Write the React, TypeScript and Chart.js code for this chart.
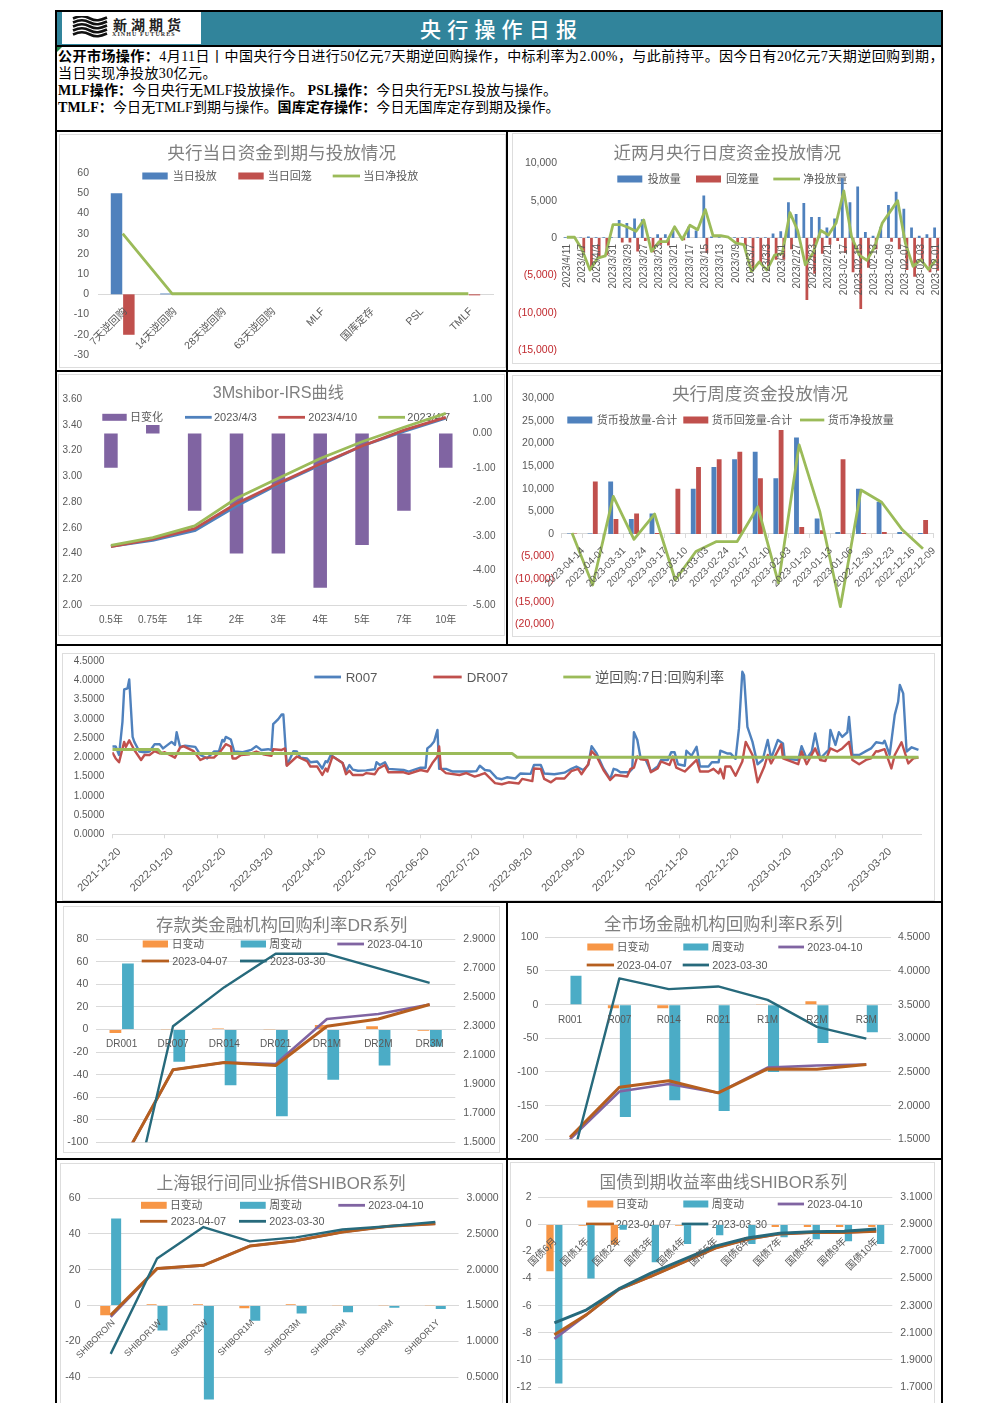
import { useEffect, useRef } from "react";
import Chart from "chart.js/auto";

// ---------- chart data ----------
const dayCategories = ["7天逆回购", "14天逆回购", "28天逆回购", "63天逆回购", "MLF", "国库定存", "PSL", "TMLF"];
const dayInjection = [50, 0.4, 0.3, 0.3, 0.3, 0.3, 0.3, 0];
const dayWithdrawal = [-20, 0, 0, 0, 0, 0, 0, -0.5];
const dayNet = [30, 0.3, 0.3, 0.3, 0.3, 0.3, 0.3, 0.3];

const dailyDates = ["2023/4/11", "2023/4/10", "2023/4/7", "2023/4/6", "2023/4/4", "2023/4/3", "2023/3/31", "2023/3/30", "2023/3/29", "2023/3/28", "2023/3/27", "2023/3/24", "2023/3/23", "2023/3/22", "2023/3/21", "2023/3/20", "2023/3/17", "2023/3/16", "2023/3/15", "2023/3/14", "2023/3/13", "2023/3/10", "2023/3/9", "2023/3/8", "2023/3/7", "2023/3/6", "2023/3/3", "2023/3/2", "2023/3/1", "2023/2/28", "2023/2/27", "2023/2/24", "2023/2/23", "2023/2/22", "2023/2/21", "2023/2/20", "2023-02-17", "2023-02-16", "2023-02-15", "2023-02-14", "2023-02-13", "2023-02-10", "2023-02-09", "2023-02-08", "2023-02-07", "2023-02-06", "2023-02-03", "2023-02-02", "2023-02-01"];
const dailyInjection = [100, 100, 50, 200, 100, 100, 100, 2400, 2000, 2600, 2500, 100, 500, 500, 1000, 50, 1500, 1000, 5700, 200, 100, 50, 100, 100, 100, 100, 100, 600, 900, 4800, 3200, 4700, 2800, 2800, 1400, 2600, 8000, 4800, 6900, 800, 300, 1500, 4400, 6200, 3900, 1400, 300, 500, 1400];
const dailyWithdrawal = [0, 0, -2000, -4300, -2700, -2300, 0, -600, -600, -1800, -400, -1900, -900, -1000, 0, -300, 0, 0, -2000, 0, 0, 0, -800, -1000, -4300, -3400, -4300, -2900, -2900, -1500, 0, -8300, -4800, -2100, -900, -400, -2000, -4600, -9500, -4000, -1500, 0, -500, -1500, -4300, -5200, -3200, -4600, -4400];
const dailyNet = [100, 100, -1600, -4300, -2700, -2400, 1800, 1800, 1400, 900, 2400, -1800, -500, -500, 1500, -200, 1700, 1100, 3800, 300, 300, 100, -700, -900, -4500, -3200, -4300, -2300, -2100, 3400, 1000, -3600, -2000, 1000, 400, 2000, 6300, 200, -2300, -3000, -1200, 2000, 3500, 5000, -700, -3800, -2900, -4200, -2900];

const irsTenors = ["0.5年", "0.75年", "1年", "2年", "3年", "4年", "5年", "7年", "10年"];
const irsDayChange = [-1, 0.25, -2.25, -3.5, -3.5, -4.5, -3.25, -2.25, -1];
const irs0403 = [2.456, 2.503, 2.578, 2.77, 2.94, 3.09, 3.237, 3.35, 3.453];
const irs0410 = [2.454, 2.513, 2.594, 2.79, 2.947, 3.097, 3.237, 3.36, 3.46];
const irs0407 = [2.464, 2.524, 2.615, 2.83, 2.986, 3.14, 3.27, 3.383, 3.49];

const weekDates = ["2023-04-14", "2023-04-07", "2023-03-31", "2023-03-24", "2023-03-17", "2023-03-10", "2023-03-03", "2023-02-24", "2023-02-17", "2023-02-10", "2023-02-03", "2023-01-20", "2023-01-13", "2023-01-06", "2022-12-30", "2022-12-23", "2022-12-16", "2022-12-09"];
const weekInjection = [100, 100, 11600, 3300, 4500, 100, 10000, 14800, 16500, 18200, 12300, 21300, 3400, 400, 10000, 7100, 400, 200];
const weekWithdrawal = [100, 11600, 3300, 4500, 200, 10000, 14800, 16500, 18200, 12300, 23000, 1500, 800, 16500, 200, 400, 100, 3100];
const weekNet = [200, -11300, 8300, -1200, 4400, -10200, -3900, -1700, -1700, 6000, -10900, 19700, 5000, -16100, 9700, 7000, 900, -3300];

const monthTickDays = [0, 31, 62, 90, 121, 151, 182, 212, 243, 274, 304, 335, 365, 396, 427, 455];
const monthTickLabels = ["2021-12-20", "2022-01-20", "2022-02-20", "2022-03-20", "2022-04-20", "2022-05-20", "2022-06-20", "2022-07-20", "2022-08-20", "2022-09-20", "2022-10-20", "2022-11-20", "2022-12-20", "2023-01-20", "2023-02-20", "2023-03-20"];
const r007Days = [0, 2, 4, 6, 7, 9, 10, 12, 13, 16, 19, 22, 25, 28, 30, 35, 37, 38, 40, 43, 49, 52, 56, 60, 63, 65, 66, 67, 70, 72, 77, 82, 85, 88, 92, 94, 95, 98, 100, 101, 103, 105, 107, 109, 111, 115, 117, 121, 124, 126, 127, 129, 132, 136, 138, 140, 142, 145, 150, 155, 156, 158, 161, 163, 172, 175, 182, 185, 186, 188, 190, 192, 193, 197, 201, 207, 212, 215, 217, 220, 223, 227, 230, 233, 238, 241, 247, 249, 253, 255, 261, 267, 271, 274, 278, 281, 283, 286, 290, 294, 296, 298, 300, 305, 307, 308, 310, 312, 315, 318, 322, 324, 328, 330, 332, 334, 338, 339, 342, 345, 347, 352, 354, 358, 359, 363, 365, 368, 370, 372, 373, 375, 378, 381, 384, 387, 389, 393, 396, 397, 405, 407, 410, 413, 415, 418, 420, 423, 424, 427, 429, 431, 434, 435, 437, 441, 445, 448, 451, 455, 456, 459, 462, 464, 465, 467, 469, 472, 476];
const r007Rates = [2.28, 2.28, 2.06, 2.92, 3.76, 3.79, 4.02, 2.53, 2.4, 2.15, 2.13, 2.15, 2.34, 2.34, 2.23, 2.4, 2.32, 2.65, 2.27, 2.3, 2.27, 2.06, 1.97, 2.15, 2.16, 2.45, 2.41, 2.53, 2.46, 2.15, 2.13, 2.19, 2.29, 2.19, 2.21, 2.19, 2.86, 2.99, 3.11, 3.11, 1.8, 1.97, 2.16, 2.15, 1.99, 1.97, 1.87, 1.89, 1.71, 1.9, 1.87, 2.06, 1.97, 1.85, 1.63, 1.8, 1.68, 1.65, 1.66, 1.69, 1.87, 1.8, 1.87, 1.7, 1.67, 1.63, 1.73, 1.73, 2.23, 2.3, 2.41, 2.71, 1.7, 1.7, 1.63, 1.63, 1.63, 1.64, 1.78, 1.67, 1.65, 1.46, 1.43, 1.48, 1.45, 1.58, 1.57, 1.8, 1.8, 1.58, 1.56, 1.6, 1.7, 1.76, 1.67, 1.8, 2.29, 2.1, 1.71, 1.43, 1.7, 1.67, 1.61, 1.61, 1.7, 2.65, 2.45, 1.97, 1.93, 1.63, 1.76, 1.93, 1.93, 2.13, 2.13, 1.82, 1.78, 2.17, 2.04, 2.27, 1.76, 1.76, 1.87, 1.87, 2.17, 2.1, 2.1, 1.96, 2.75, 4.22, 4.13, 2.79, 2.4, 1.82, 1.93, 2.45, 1.97, 2.45, 2.36, 1.97, 1.93, 2.29, 1.97, 2.15, 2.62, 1.97, 2.06, 2.19, 2.71, 2.32, 2.65, 2.53, 2.65, 3.05, 2.06, 2.06, 2.16, 2.23, 2.39, 2.36, 2.43, 2.06, 3.1, 3.44, 3.88, 3.66, 2.15, 2.26, 2.19];
const dr007Days = [0, 2, 4, 7, 8, 10, 13, 17, 19, 22, 25, 28, 31, 37, 40, 42, 48, 52, 55, 60, 64, 67, 70, 71, 73, 76, 81, 85, 89, 94, 95, 100, 102, 103, 109, 115, 117, 121, 124, 126, 127, 130, 132, 136, 138, 140, 142, 148, 150, 155, 157, 161, 163, 172, 175, 182, 186, 189, 192, 193, 194, 197, 205, 209, 214, 217, 220, 226, 230, 234, 240, 242, 248, 249, 253, 255, 259, 262, 267, 271, 275, 277, 281, 283, 286, 290, 294, 297, 304, 306, 308, 310, 312, 316, 318, 322, 324, 329, 331, 333, 338, 341, 345, 347, 352, 355, 358, 359, 361, 362, 365, 368, 372, 374, 378, 381, 385, 387, 389, 395, 396, 405, 407, 410, 415, 418, 421, 424, 428, 431, 435, 437, 441, 445, 448, 451, 452, 456, 460, 462, 466, 470, 473, 476];
const dr007Rates = [2.13, 1.97, 1.87, 2.4, 2.27, 2.44, 2.19, 1.93, 2.06, 2.06, 2.16, 2.1, 2.13, 1.99, 2.25, 2.29, 2.16, 1.93, 1.99, 1.99, 2.16, 2.34, 2.28, 1.97, 1.97, 2.06, 2.08, 2.15, 2.08, 2.04, 2.21, 2.19, 2.23, 1.78, 2.02, 1.9, 1.76, 1.76, 1.54, 1.71, 1.63, 2.02, 1.97, 1.85, 1.56, 1.65, 1.54, 1.54, 1.59, 1.56, 1.7, 1.8, 1.61, 1.61, 1.57, 1.67, 1.63, 1.85, 2.02, 2.28, 1.7, 1.59, 1.54, 1.59, 1.5, 1.54, 1.59, 1.33, 1.3, 1.35, 1.32, 1.44, 1.38, 1.71, 1.7, 1.44, 1.35, 1.45, 1.45, 1.64, 1.7, 1.56, 1.82, 2.16, 2.02, 1.67, 1.41, 1.54, 1.5, 1.7, 1.73, 2.02, 1.95, 1.93, 1.61, 1.71, 1.89, 1.8, 2.02, 1.73, 1.63, 1.76, 1.93, 1.63, 1.63, 1.7, 1.58, 1.7, 1.45, 1.76, 1.76, 1.52, 1.89, 2.4, 2.06, 1.35, 1.76, 2.06, 1.84, 2.34, 1.97, 1.82, 2.15, 1.82, 2.23, 1.93, 1.9, 2.23, 2.15, 2.23, 2.4, 1.93, 1.82, 1.93, 1.97, 2.16, 2.15, 2.21, 1.71, 2.06, 2.39, 1.84, 1.97, 1.99];
const repoDays = [0, 27, 29, 236, 239, 476];
const repoRates = [2.2, 2.2, 2.1, 2.1, 2.0, 2.0];

const drTerms = ["DR001", "DR007", "DR014", "DR021", "DR1M", "DR2M", "DR3M"];
const drDay = [-3, 0.2, 1, 0.2, 4, 3, -1];
const drWeek = [58.5, -28.5, -49.5, -77, -44.5, -32, -15];
const dr0410 = [1.36, 2.0, 2.05, 2.04, 2.35, 2.385, 2.45];
const dr0407 = [1.36, 2.0, 2.05, 2.03, 2.3, 2.35, 2.45];
const dr0330 = [0.77, 2.3, 2.57, 2.8, 2.8, 2.7, 2.6];

const rTerms = ["R001", "R007", "R014", "R021", "R1M", "R2M", "R3M"];
const rDay = [-1, -5.5, -5.5, -1, 1, 5, -1];
const rWeek = [43, -167, -142, -158, -100, -57, -41];
const r0410 = [1.5, 2.21, 2.32, 2.19, 2.565, 2.595, 2.61];
const r0407 = [1.53, 2.272, 2.37, 2.19, 2.545, 2.54, 2.61];
const r0330 = [1.07, 3.89, 3.73, 3.77, 3.57, 3.17, 2.995];

const shiborTerms = ["SHIBORO/N", "SHIBOR1W", "SHIBOR2W", "SHIBOR1M", "SHIBOR3M", "SHIBOR6M", "SHIBOR9M", "SHIBOR1Y"];
const shiborDay = [-5.5, 0.7, 0.7, -1.5, 0.7, 0.1, 0.1, 0.1];
const shiborWeek = [48.5, -14, -52.5, -8.5, -4.5, -3.8, -1.2, -2];
const shibor0410 = [1.34, 2.015, 2.06, 2.33, 2.405, 2.525, 2.605, 2.64];
const shibor0407 = [1.365, 2.015, 2.06, 2.33, 2.405, 2.525, 2.605, 2.64];
const shibor0330 = [0.825, 2.155, 2.595, 2.395, 2.45, 2.56, 2.605, 2.665];

const bondTerms = ["国债6月", "国债1年", "国债2年", "国债3年", "国债4年", "国债5年", "国债6年", "国债7年", "国债8年", "国债9年", "国债10年"];
const bondDay = [-3.45, -0.1, -1.5, -0.05, -0.1, -0.05, 0, -0.2, -0.2, -0.2, -0.2];
const bondWeek = [-11.75, -4, -0.4, -2.8, -1.45, -0.8, -1.45, -0.95, -1.1, -1.25, -1.45];
const bond0410 = [2.055, 2.234, 2.42, 2.517, 2.62, 2.725, 2.79, 2.83, 2.84, 2.84, 2.85];
const bond0407 = [2.086, 2.234, 2.42, 2.517, 2.62, 2.725, 2.79, 2.83, 2.84, 2.84, 2.85];
const bond0330 = [2.173, 2.27, 2.424, 2.54, 2.64, 2.74, 2.8, 2.835, 2.845, 2.85, 2.866];

// ---------- styling ----------
const FONT = '"Liberation Sans","Noto Sans CJK SC",sans-serif';
const GREY = "#595959";
const GRID = "#D9D9D9";
const NEG = "#C0282D";
const BLUE = "#4F81BD";
const RED = "#C0504D";
const GREEN = "#9BBB59";
const PURPLE = "#8064A2";
const ORANGE = "#F79646";
const TEAL = "#4BACC6";
const BROWN = "#B65F1F";
const DARK = "#276A7C";

type Rect = { x: number; y: number; w: number; h: number };
type Plot = { l: number; t: number; r: number; b: number };
type LegendSlot = [number, number, number, number, number, number?]; // dataset, swatch left, swatch right, centre y, text x, optional font size

const zeroPads = (s: any) => {
  s.paddingLeft = 0;
  s.paddingRight = 0;
  s.paddingTop = 0;
  s.paddingBottom = 0;
};

function yScale(side: "left" | "right", width: number, min: number, max: number, step: number, pad: number, fmt: (v: number) => string, grid = false, size = 10.5, negRed = false) {
  return {
    type: "linear",
    position: side,
    min,
    max,
    grid: { display: grid, color: GRID, drawTicks: false, lineWidth: 1 },
    border: { display: false },
    ticks: {
      stepSize: step,
      padding: pad,
      autoSkip: false,
      font: { family: FONT, size },
      color: negRed ? (c: any) => (c.tick.value < 0 ? NEG : GREY) : GREY,
      callback: (v: any) => fmt(Number(v)),
    },
    afterFit: (s: any) => {
      s.width = width;
      zeroPads(s);
    },
  };
}

function xScale(opts: { height: number; atZero?: boolean; rotation?: number; pad?: number; shift?: number; ticks?: boolean; size?: number; every?: number }) {
  const { height, atZero = true, rotation = 0, pad = 6, shift = 0, ticks = false, size = 10, every = 1 } = opts;
  return {
    type: "category",
    offset: true,
    position: atZero ? { y: 0 } : "bottom",
    grid: { display: ticks, drawOnChartArea: false, drawTicks: ticks, tickLength: 4, color: GRID },
    border: { display: true, color: GRID, width: 1 },
    ticks: {
      autoSkip: false,
      minRotation: rotation,
      maxRotation: rotation,
      padding: pad,
      labelOffset: shift,
      z: 1,
      color: GREY,
      font: { family: FONT, size },
      callback: function (this: any, v: any, i: number) {
        return i % every === 0 ? this.getLabelForValue(v) : "";
      },
    },
    afterFit: (s: any) => {
      s.height = height;
      zeroPads(s);
    },
  };
}

const bar = (label: string, data: number[], color: string, cat: number, pct: number, yAxisID = "y") => ({
  type: "bar",
  label,
  data,
  backgroundColor: color,
  categoryPercentage: cat,
  barPercentage: pct,
  yAxisID,
  order: 20,
});
const line = (label: string, data: any[], color: string, order: number, yAxisID = "y", width = 2.8) => ({
  type: "line",
  label,
  data,
  borderColor: color,
  backgroundColor: color,
  borderWidth: width,
  borderJoinStyle: "round",
  pointRadius: 0,
  tension: 0,
  yAxisID,
  order,
});

function overlay(rect: Rect, title: string | null, titleX: number, titleY: number, titleSize: number, legendSize: number, slots: LegendSlot[]) {
  return {
    id: "panelText",
    beforeDatasetsDraw(chart: any) {
      const c = chart.ctx;
      c.save();
      if (title) {
        c.font = `${titleSize}px ${FONT}`;
        c.fillStyle = "#7F7F7F";
        c.textAlign = "center";
        c.textBaseline = "middle";
        c.fillText(title, titleX - rect.x, titleY - rect.y + 1);
      }
      c.textAlign = "left";
      c.textBaseline = "middle";
      for (const [i, a, b, y, tx, size] of slots) {
        const d = chart.data.datasets[i];
        c.font = `${size ?? legendSize}px ${FONT}`;
        if (d.type === "bar") {
          c.fillStyle = d.backgroundColor;
          c.fillRect(a - rect.x, y - rect.y - 3.5, b - a, 7);
        } else {
          c.strokeStyle = d.borderColor;
          c.lineWidth = 2.8;
          c.beginPath();
          c.moveTo(a - rect.x, y - rect.y);
          c.lineTo(b - rect.x, y - rect.y);
          c.stroke();
        }
        c.fillStyle = GREY;
        c.fillText(d.label, tx - rect.x, y - rect.y + 1);
      }
      c.restore();
    },
  };
}

function makeConfig(rect: Rect, plot: Plot, labels: string[] | undefined, datasets: any[], scales: any, plugin: any, atZero: boolean) {
  const hasRight = !!scales.y1;
  return {
    type: "bar",
    data: { labels, datasets },
    options: {
      responsive: false,
      animation: false,
      maintainAspectRatio: false,
      layout: {
        padding: {
          left: 0,
          top: plot.t - rect.y,
          right: hasRight ? 0 : rect.x + rect.w - plot.r,
          bottom: atZero ? rect.y + rect.h - plot.b : 0,
        },
      },
      plugins: { legend: { display: false }, title: { display: false }, tooltip: { enabled: false } },
      scales,
    },
    plugins: [plugin],
  };
}

const num0 = (v: number) => String(v);
const fix2 = (v: number) => v.toFixed(2);
const fix4 = (v: number) => v.toFixed(4);
const money = (v: number) => {
  const s = Math.abs(v).toLocaleString("en-US");
  return v < 0 ? `(${s})` : s;
};

// ---------- the nine panels ----------
const R1L: Rect = { x: 56, y: 132, w: 450, h: 237 };
const R1R: Rect = { x: 508, y: 132, w: 433, h: 237 };
const R2L: Rect = { x: 56, y: 372, w: 450, h: 272 };
const R2R: Rect = { x: 508, y: 372, w: 433, h: 272 };
const R3: Rect = { x: 56, y: 646, w: 885, h: 255 };
const R4L: Rect = { x: 56, y: 903, w: 450, h: 255 };
const R4R: Rect = { x: 508, y: 903, w: 433, h: 255 };
const R5L: Rect = { x: 56, y: 1160, w: 450, h: 243 };
const R5R: Rect = { x: 508, y: 1160, w: 433, h: 243 };
const rect3Bottom = R3.y + R3.h;

function configs(): any[] {
  const list: any[] = [];

  let rect = R1L;
  let plot: Plot = { l: 98, t: 173, r: 493, b: 355 };
  list.push([
    rect,
    makeConfig(
      rect, plot, dayCategories,
      [bar("当日投放", dayInjection, BLUE, 0.5, 0.93), bar("当日回笼", dayWithdrawal, RED, 0.5, 0.93), line("当日净投放", dayNet, GREEN, 1)],
      { x: xScale({ height: 0, rotation: 45, pad: 11, shift: 3, size: 10.5 }), y: yScale("left", plot.l - rect.x, -30, 60, 10, 9, num0) },
      overlay(rect, "央行当日资金到期与投放情况", 281.7, 153.3, 17.6, 11, [[0, 142.3, 167.7, 176, 172.7], [1, 238.3, 263.7, 176, 267.7], [2, 332.7, 360, 176, 363.3]]),
      true
    ),
  ]);

  rect = R1R;
  plot = { l: 563, t: 163.3, r: 940, b: 350 };
  list.push([
    rect,
    makeConfig(
      rect, plot, dailyDates,
      [bar("投放量", dailyInjection, BLUE, 0.8, 0.9), bar("回笼量", dailyWithdrawal, RED, 0.8, 0.9), line("净投放量", dailyNet, GREEN, 1)],
      { x: xScale({ height: 0, rotation: 90, pad: 6, every: 2, size: 10 }), y: yScale("left", plot.l - rect.x, -15000, 10000, 5000, 6, money, false, 10.5, true) },
      overlay(rect, "近两月央行日度资金投放情况", 727.3, 152.7, 17.5, 11, [[0, 617.3, 642.3, 179, 647.7], [1, 696, 721, 179, 726], [2, 773.3, 800, 179, 803.3]]),
      true
    ),
  ]);

  rect = R2L;
  plot = { l: 90, t: 399.3, r: 466.7, b: 605 };
  list.push([
    rect,
    makeConfig(
      rect, plot, irsTenors,
      [bar("日变化", irsDayChange, PURPLE, 0.323, 1, "y1"), line("2023/4/3", irs0403, BLUE, 3), line("2023/4/10", irs0410, RED, 2), line("2023/4/7", irs0407, GREEN, 1)],
      {
        x: xScale({ height: rect.y + rect.h - plot.b, atZero: false, pad: 9 }),
        y: yScale("left", plot.l - rect.x, 2, 3.6, 0.2, 8, fix2, false, 10),
        y1: yScale("right", rect.x + rect.w - plot.r, -5, 1, 1, 6, fix2, false, 10),
      },
      overlay(rect, "3Mshibor-IRS曲线", 278.3, 392.7, 16.2, 11, [[0, 102.3, 126.7, 417.3, 130], [1, 185, 211.7, 417.3, 214], [2, 278.3, 305, 417.3, 308.3], [3, 378.3, 405, 417.3, 407.3]]),
      false
    ),
  ]);

  rect = R2R;
  plot = { l: 561.7, t: 398.3, r: 933.3, b: 624.3 };
  list.push([
    rect,
    makeConfig(
      rect, plot, weekDates,
      [bar("货币投放量-合计", weekInjection, BLUE, 0.51, 0.92), bar("货币回笼量-合计", weekWithdrawal, RED, 0.51, 0.92), line("货币净投放量", weekNet, GREEN, 1)],
      { x: xScale({ height: 0, rotation: 45, pad: 7, shift: 11, ticks: true }), y: yScale("left", plot.l - rect.x, -20000, 30000, 5000, 7.5, money, false, 10.5, true) },
      overlay(rect, "央行周度资金投放情况", 760, 394, 17.6, 11, [[0, 567.3, 592.3, 420, 596.7], [1, 683.3, 708.3, 420, 711.7], [2, 800, 824.3, 420, 827.7]]),
      true
    ),
  ]);

  rect = R3;
  plot = { l: 112.3, t: 661, r: 921, b: 834.3 };
  const toPoints = (days: number[], rates: number[]) => days.map((d, i) => ({ x: d, y: rates[i] }));
  list.push([
    rect,
    makeConfig(
      rect, plot, undefined,
      [line("R007", toPoints(r007Days, r007Rates), BLUE, 3, "y", 2.4), line("DR007", toPoints(dr007Days, dr007Rates), RED, 2, "y", 2.4), line("逆回购:7日:回购利率", toPoints(repoDays, repoRates), GREEN, 1, "y", 3)],
      {
        x: {
          type: "linear",
          position: "bottom",
          offset: false,
          min: 0,
          max: 477.5,
          grid: { display: true, offset: false, drawOnChartArea: false, drawTicks: true, tickLength: 4, color: GRID },
          border: { display: true, color: GRID },
          afterBuildTicks: (s: any) => {
            s.ticks = monthTickDays.map((value) => ({ value }));
          },
          ticks: {
            autoSkip: false,
            minRotation: 45,
            maxRotation: 45,
            padding: 7,
            labelOffset: 7,
            color: GREY,
            font: { family: FONT, size: 11 },
            callback: (v: any) => monthTickLabels[monthTickDays.indexOf(Number(v))] ?? "",
          },
          afterFit: (s: any) => {
            s.height = rect3Bottom - 834.3;
            zeroPads(s);
          },
        },
        y: yScale("left", plot.l - rect.x, 0, 4.5, 0.5, 8, fix4, false, 10),
      },
      overlay(rect, null, 0, 0, 0, 13.3, [[0, 314.3, 341, 677, 345.7], [1, 433.3, 461.7, 677, 466.7], [2, 563.3, 590.7, 677, 595, 14.2]]),
      false
    ),
  ]);

  rect = R4L;
  plot = { l: 96, t: 939.3, r: 455.3, b: 1142.3 };
  list.push([
    rect,
    makeConfig(
      rect, plot, drTerms,
      [bar("日变动", drDay, ORANGE, 0.487, 0.94), bar("周变动", drWeek, TEAL, 0.487, 0.94), line("2023-04-10", dr0410, PURPLE, 3, "y1", 2.6), line("2023-04-07", dr0407, BROWN, 2, "y1", 3), line("2023-03-30", dr0330, DARK, 1, "y1", 2.4)],
      {
        x: xScale({ height: 0, pad: 9 }),
        y: yScale("left", plot.l - rect.x, -100, 80, 20, 7.7, num0, true),
        y1: yScale("right", rect.x + rect.w - plot.r, 1.5, 2.9, 0.2, 8, fix4),
      },
      overlay(rect, "存款类金融机构回购利率DR系列", 281.7, 925, 17.4, 10.8, [[0, 142.7, 168, 944, 171.7], [1, 240.7, 266, 944, 269.3], [2, 337.3, 364, 944, 367.3], [3, 141.7, 169, 961, 172.3], [4, 240, 266.7, 961, 270]]),
      true
    ),
  ]);

  rect = R4R;
  plot = { l: 545.3, t: 937.3, r: 891, b: 1139.3 };
  list.push([
    rect,
    makeConfig(
      rect, plot, rTerms,
      [bar("日变动", rDay, ORANGE, 0.486, 0.92), bar("周变动", rWeek, TEAL, 0.486, 0.92), line("2023-04-10", r0410, PURPLE, 3, "y1", 2.6), line("2023-04-07", r0407, BROWN, 2, "y1", 3), line("2023-03-30", r0330, DARK, 1, "y1", 2.4)],
      {
        x: xScale({ height: 0, pad: 10 }),
        y: yScale("left", plot.l - rect.x, -200, 100, 50, 7, num0, true),
        y1: yScale("right", rect.x + rect.w - plot.r, 1.5, 4.5, 0.5, 7, fix4),
      },
      overlay(rect, "全市场金融机构回购利率R系列", 723.3, 924, 17.4, 10.8, [[0, 587.3, 613.3, 947, 616.7], [1, 683.3, 708.3, 947, 711.7], [2, 778.3, 804, 947, 807.3], [3, 586.7, 614, 965, 616.7], [4, 682.7, 709, 965, 712.3]]),
      true
    ),
  ]);

  rect = { ...R5L, h: 256 };
  plot = { l: 87.5, t: 1198, r: 458.5, b: 1413 };
  list.push([
    rect,
    makeConfig(
      rect, plot, shiborTerms,
      [bar("日变动", shiborDay, ORANGE, 0.47, 0.92), bar("周变动", shiborWeek, TEAL, 0.47, 0.92), line("2023-04-10", shibor0410, PURPLE, 3, "y1", 2.6), line("2023-04-07", shibor0407, BROWN, 2, "y1", 3), line("2023-03-30", shibor0330, DARK, 1, "y1", 2.4)],
      {
        x: xScale({ height: 0, rotation: 45, pad: 12, shift: 3, size: 9 }),
        y: yScale("left", plot.l - rect.x, -60, 60, 20, 7, num0, true),
        y1: yScale("right", rect.x + rect.w - plot.r, 0, 3, 0.5, 8, fix4),
      },
      overlay(rect, "上海银行间同业拆借SHIBOR系列", 281, 1183, 16.8, 10.8, [[0, 141, 166.7, 1205.3, 170], [1, 240, 265.7, 1205.3, 269.3], [2, 338.3, 365, 1205.3, 368.3], [3, 140, 167.3, 1221.3, 170.7], [4, 239, 266, 1221.3, 269.3]]),
      true
    ),
  ]);

  rect = R5R;
  plot = { l: 538.3, t: 1197.3, r: 892.3, b: 1387 };
  list.push([
    rect,
    makeConfig(
      rect, plot, bondTerms,
      [bar("日变动", bondDay, ORANGE, 0.547, 0.83), bar("周变动", bondWeek, TEAL, 0.547, 0.83), line("2023-04-10", bond0410, PURPLE, 3, "y1", 2.6), line("2023-04-07", bond0407, BROWN, 2, "y1", 3), line("2023-03-30", bond0330, DARK, 1, "y1", 3)],
      {
        x: xScale({ height: 0, rotation: 45, pad: 11, shift: 1, size: 10 }),
        y: yScale("left", plot.l - rect.x, -12, 2, 2, 6.6, num0, true),
        y1: yScale("right", rect.x + rect.w - plot.r, 1.7, 3.1, 0.2, 8, fix4),
      },
      overlay(rect, "国债到期收益率曲线SHIBOR系列", 723.3, 1182, 16.7, 10.8, [[0, 587.3, 613.3, 1204, 615.7], [1, 683.3, 708.3, 1204, 711.7], [2, 777.7, 804, 1204, 807.3], [3, 586, 614, 1224, 615.7], [4, 681.7, 708.3, 1224, 711.7]]),
      true
    ),
  ]);
  return list;
}

function Canvas({ rect, config }: { rect: Rect; config: any }) {
  const ref = useRef<HTMLCanvasElement>(null);
  useEffect(() => {
    const chart = new Chart(ref.current as HTMLCanvasElement, config);
    return () => chart.destroy();
  }, [config]);
  return <canvas ref={ref} width={rect.w} height={rect.h} style={{ position: "absolute", left: rect.x, top: rect.y, width: rect.w, height: rect.h }} />;
}

const allConfigs = configs();

const rules: number[][] = [
  [55, 10, 888, 2], [55, 44.5, 888, 2], [55, 130, 888, 2], [55, 370, 888, 2], [55, 644, 888, 2], [55, 901, 888, 2], [55, 1158, 888, 2],
  [55, 10, 2, 1393], [941, 10, 2, 1393], [506, 131, 1.5, 514], [506, 902, 1.5, 501],
];
const frames: number[][] = [
  [59, 134, 447, 234], [512, 133, 429, 231], [57.5, 373.5, 447.5, 262], [512, 375, 429, 262], [62, 653, 873, 248], [63, 906, 437, 247], [60, 1163, 443, 250], [510, 1162, 425, 250],
];

const textLine = { position: "absolute", left: 58, whiteSpace: "nowrap", height: 17, lineHeight: "17px" } as const;

export default function App() {
  return (
    <div style={{ position: "absolute", left: 0, top: 0, width: 992, height: 1403, overflow: "hidden", background: "#fff", fontFamily: '"Liberation Serif","Noto Sans CJK SC",serif', fontSize: 14, color: "#000" }}>
      <div style={{ position: "absolute", left: 56, top: 11, width: 886, height: 34, background: "#31849B" }} />
      <div style={{ position: "absolute", left: 62, top: 12, width: 139, height: 32, background: "#fff" }} />
      <svg style={{ position: "absolute", left: 72, top: 16 }} width="36" height="22" viewBox="0 0 36 22">
        {[2.5, 6.5, 10.5, 14.5, 18.5].map((y) => (
          <path key={y} d={`M1 ${y} C8 ${y - 3} 12 ${y - 3} 18 ${y} S28 ${y + 2} 35 ${y - 1}`} stroke="#111" strokeWidth="2.6" fill="none" />
        ))}
      </svg>
      <div style={{ position: "absolute", left: 113, top: 15, fontFamily: '"Noto Sans CJK SC"', fontWeight: 700, fontSize: 14, letterSpacing: 4, lineHeight: "18px", color: "#222", whiteSpace: "nowrap" }}>新湖期货</div>
      <div style={{ position: "absolute", left: 112, top: 31, fontFamily: '"Liberation Serif"', fontWeight: 700, fontSize: 6, letterSpacing: 1.1, lineHeight: "6px", color: "#333", whiteSpace: "nowrap" }}>XINHU FUTURES</div>
      <div style={{ position: "absolute", left: 420, top: 13, fontFamily: '"Noto Sans CJK SC"', fontWeight: 500, fontSize: 21, letterSpacing: 6.2, lineHeight: "30px", color: "#fff", whiteSpace: "nowrap" }}>央行操作日报</div>
      <div style={{ position: "absolute", left: 57, top: 46, width: 0, height: 0, borderTop: "6px solid #1E8449", borderRight: "6px solid transparent" }} />

      <div style={{ ...textLine, top: 47.5, letterSpacing: 0.46 }}><b>公开市场操作：</b>4月11日丨中国央行今日进行50亿元7天期逆回购操作，中标利率为2.00%，与此前持平。因今日有20亿元7天期逆回购到期，</div>
      <div style={{ ...textLine, top: 64.5, letterSpacing: 0.4 }}>当日实现净投放30亿元。</div>
      <div style={{ ...textLine, top: 81.5, letterSpacing: 0.2 }}><b>MLF操作：</b>今日央行无MLF投放操作。 <b>PSL操作：</b>今日央行无PSL投放与操作。</div>
      <div style={{ ...textLine, top: 98.5, letterSpacing: 0.1 }}><b>TMLF：</b>今日无TMLF到期与操作。<b>国库定存操作：</b>今日无国库定存到期及操作。</div>

      {frames.map((f, i) => (
        <div key={i} style={{ position: "absolute", left: f[0], top: f[1], width: f[2], height: f[3], border: "1px solid #DDDDDD", boxSizing: "border-box" }} />
      ))}
      {allConfigs.map(([rect, config], i) => (
        <Canvas key={i} rect={rect} config={config} />
      ))}
      {rules.map((r, i) => (
        <div key={i} style={{ position: "absolute", left: r[0], top: r[1], width: r[2], height: r[3], background: "#000" }} />
      ))}
    </div>
  );
}
